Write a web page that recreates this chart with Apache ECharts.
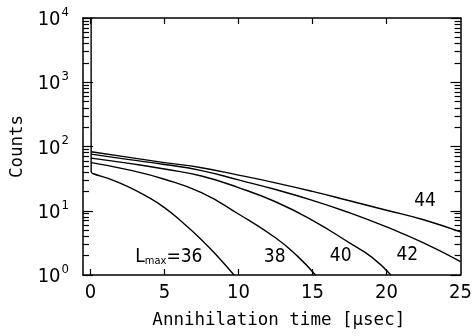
<!DOCTYPE html>
<html><head><meta charset="utf-8">
<script src="https://cdn.jsdelivr.net/npm/echarts@6/dist/echarts.min.js"></script>
<style>html,body{margin:0;padding:0;background:#fff}#c{width:475px;height:336px}</style>
</head><body><div id="c"></div>
<script>
// ---- data ----
const xTickValues = [0, 5, 10, 15, 20];
const xLabelValues = [0, 5, 10, 15, 20, 25];
const yDecades = [1, 10, 100, 1000, 10000];
const yMinor = [2,3,4,5,6,7,8,9, 20,30,40,50,60,70,80,90, 200,300,400,500,600,700,800,900, 2000,3000,4000,5000,6000,7000,8000,9000];

// prompt peak at t = 0
const promptTime = [0.05, 0.05];
const promptCounts = [10000, 40];

const timeL36 = [0.05, 0.15, 1.25, 2.5, 3.75, 5, 6.25, 7.5, 8.75, 9.7];
const countsL36 = [40, 38, 31.6, 24, 17, 11.2, 6.5, 3.55, 1.78, 1.0];
const timeL38 = [0.05, 2.5, 5, 7.5, 10, 12.5, 14, 15.2];
const countsL38 = [56, 43.6, 30.9, 19.1, 8.9, 3.8, 1.95, 1.0];
const timeL40 = [0.05, 2.5, 5, 7.5, 10, 12.5, 15, 17.5, 19, 20.3];
const countsL40 = [66, 55, 44.7, 34.7, 22.9, 13.8, 7.1, 3.16, 1.9, 1.0];
const timeL42 = [0.05, 2.5, 5, 7.5, 10, 12.5, 15, 17.5, 20, 22.5, 25];
const countsL42 = [76, 63, 52.5, 42.2, 30.2, 21.4, 14.5, 9.3, 5.6, 3.16, 1.62];
const timeL44 = [0.05, 2.5, 5, 7.5, 10, 12.5, 15, 17.5, 20, 22.5, 25];
const countsL44 = [83, 68.4, 56.2, 46.8, 35.9, 27.2, 20, 14.3, 10.2, 7.24, 4.68];

const curveNames = ['36', '38', '40', '42', '44'];
const labelTime = [5.3, 12.45, 16.9, 21.4, 22.6];
const labelCounts = [2.0, 1.98, 2.05, 2.16, 14.7];

// ---- chart ----
const NARROW = "'Liberation Sans Narrow','DejaVu Sans Condensed','Liberation Sans',sans-serif";
const MONO = "'DejaVu Sans Mono','Liberation Mono',monospace";
const zip = (a, b) => a.map((v, i) => [v, b[i]]);
const curves = [
  zip(timeL36, countsL36), zip(timeL38, countsL38), zip(timeL40, countsL40),
  zip(timeL42, countsL42), zip(timeL44, countsL44)
];

const chart = echarts.init(document.getElementById('c'), null, {renderer: 'canvas'});
const axisLine = {show: true, onZero: false, lineStyle: {color: '#000', width: 1.5}};
const ylog = (pos, tickVals, len, showLine, showLabel) => ({
  type: 'log', logBase: 10, min: 1, max: 10000, position: pos,
  axisLine: showLine ? axisLine : {show: false, onZero: false},
  axisTick: {show: true, inside: true, length: len, customValues: tickVals, lineStyle: {color: '#000', width: 1.2}},
  axisLabel: showLabel ? {
    show: true, margin: 14, customValues: yDecades,
    formatter: v => '{b|10}{s|' + Math.round(Math.log10(v)) + '}',
    rich: {
      b: {fontFamily: NARROW, fontSize: 20, color: '#000', lineHeight: 24, verticalAlign: 'bottom'},
      s: {fontFamily: NARROW, fontSize: 13, color: '#000', lineHeight: 13, verticalAlign: 'top', padding: [0, 0, 0, 1]}
    }
  } : {show: false},
  splitLine: {show: false}, minorTick: {show: false}
});

const series = [{
  type: 'line', name: 'prompt', xAxisIndex: 0, yAxisIndex: 0,
  data: zip(promptTime, promptCounts), showSymbol: false, silent: true,
  lineStyle: {color: '#000', width: 1.4}
}];
curves.forEach((d, i) => series.push({
  type: 'line', name: 'Lmax=' + curveNames[i], xAxisIndex: 0, yAxisIndex: 0,
  data: d, showSymbol: false, smooth: 0.5, silent: true,
  lineStyle: {color: '#000', width: 1.4}
}));
const txt = (size, lh) => ({fontFamily: NARROW, fontSize: size, color: '#000', lineHeight: lh, verticalAlign: 'bottom', textBorderWidth: 0, opacity: 1});
series.push({
  type: 'scatter', xAxisIndex: 0, yAxisIndex: 0, symbolSize: 0, silent: true,
  itemStyle: {color: '#000', opacity: 1},
  data: labelTime.map((t, i) => ({value: [t, labelCounts[i]], name: curveNames[i]})),
  label: {
    show: true, position: 'inside', color: '#000', textBorderWidth: 0, opacity: 1,
    formatter: p => p.dataIndex === 0 ? '{L|L}{m|max}{n|=' + p.name + '}' : '{n|' + p.name + '}',
    rich: {L: txt(19, 22), m: txt(11, 12), n: txt(19, 22)}
  }
});

chart.setOption({
  animation: false,
  backgroundColor: '#fff',
  grid: {left: 83, top: 18, width: 381, height: 257, containLabel: false},
  xAxis: [{
    type: 'value', min: -0.5, max: 25, position: 'bottom',
    name: 'Annihilation time [μsec]', nameLocation: 'middle', nameGap: 36,
    nameTextStyle: {fontFamily: MONO, fontSize: 17.5, color: '#000', padding: [0, 0, 0, 14]},
    axisLine: axisLine,
    axisTick: {show: true, inside: true, length: 6, customValues: xTickValues, lineStyle: {color: '#000', width: 1.2}},
    axisLabel: {show: true, margin: 8, customValues: xLabelValues, fontFamily: NARROW, fontSize: 20, color: '#000'},
    splitLine: {show: false}
  }, {
    type: 'value', min: -0.5, max: 25, position: 'top',
    axisLine: axisLine,
    axisTick: {show: true, inside: true, length: 6, customValues: xTickValues, lineStyle: {color: '#000', width: 1.2}},
    axisLabel: {show: false}, splitLine: {show: false}
  }],
  yAxis: [
    Object.assign(ylog('left', yDecades, 10, true, true), {
      name: 'Counts', nameLocation: 'middle', nameGap: 56, nameRotate: 90,
      nameTextStyle: {fontFamily: MONO, fontSize: 17.5, color: '#000'}
    }),
    ylog('left', yMinor, 6, false, false),
    ylog('right', yDecades, 10, true, false),
    ylog('right', yMinor, 6, false, false)
  ],
  series: series
});
</script></body></html>
